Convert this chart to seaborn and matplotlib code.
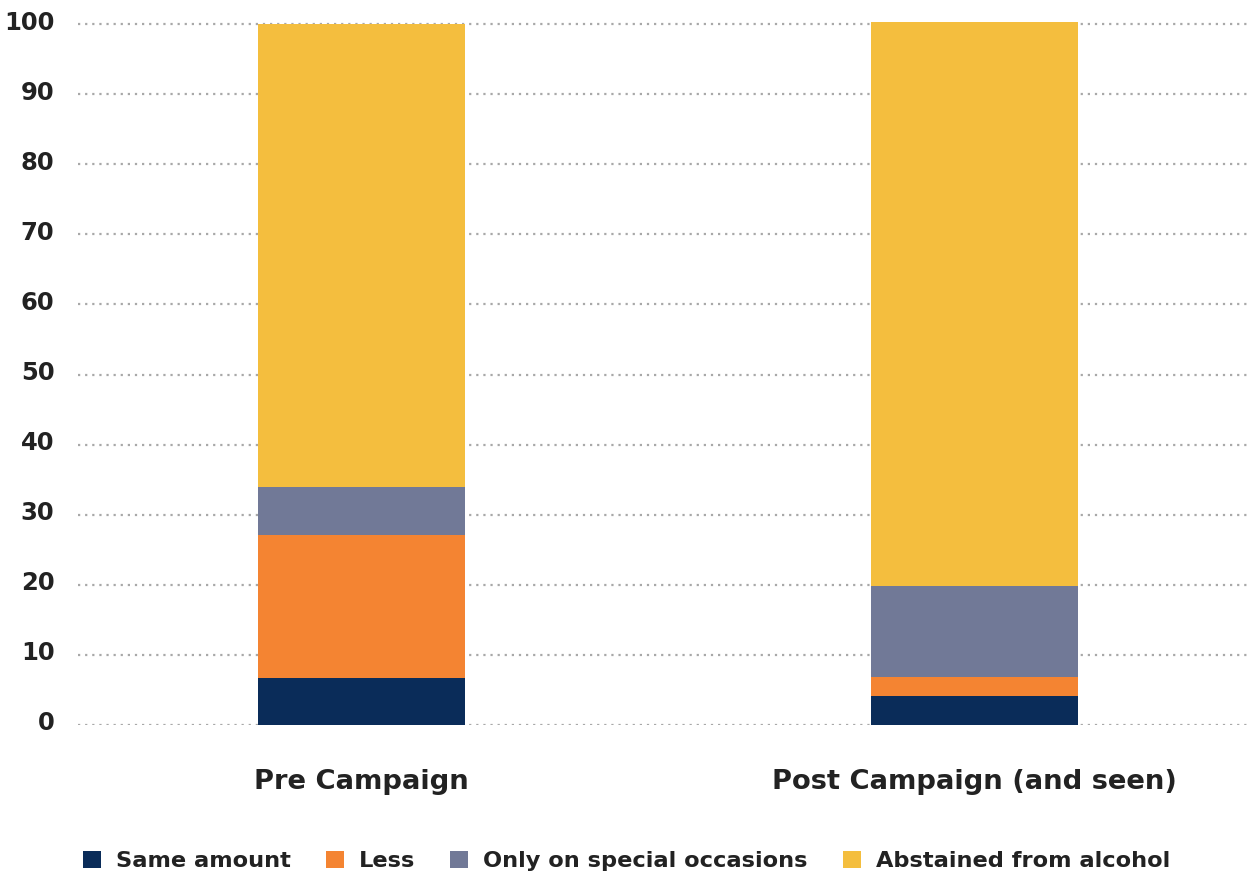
import matplotlib
matplotlib.use("Agg")
import matplotlib.pyplot as plt
import matplotlib.transforms as mtransforms
import seaborn as sns
import numpy as np
import pandas as pd
from matplotlib.patches import Patch

# Survey responses (% of respondents)
phases = ["Pre Campaign", "Post Campaign (and seen)"]
responses = ["Same amount", "Less", "Only on special occasions", "Abstained from alcohol"]
same_amount = [6.7, 4.1]
less = [20.4, 2.8]
special_occasions = [6.8, 13.0]
abstained = [66.1, 80.4]
colors = ["#0a2c59", "#f48432", "#717997", "#f4be3e"]
y_ticks = [0, 10, 20, 30, 40, 50, 60, 70, 80, 90, 100]

sns.set_theme(style="white")
plt.rcParams["font.family"] = ["DejaVu Sans"]
text_color = "#222222"

series = [same_amount, less, special_occasions, abstained]
cumulative = np.cumsum(np.array(series), axis=0)

y_top = 100.6
px_per_unit = 7.01
fig = plt.figure(figsize=(12.53, 8.77), dpi=100)
ax_h = y_top * px_per_unit
ax = fig.add_axes([78 / 1253, (877 - 725) / 877, (1250 - 78) / 1253, ax_h / 877])

# stacked bars: draw the running totals from the top layer down
for i in range(len(responses) - 1, -1, -1):
    df = pd.DataFrame({"phase": phases, "value": cumulative[i]})
    sns.barplot(data=df, x="phase", y="value", color=colors[i], width=0.338,
                saturation=1, ax=ax, zorder=3, linewidth=0)

ax.set_ylim(0, y_top)
ax.set_xlim(-0.4625, 1.449)
ax.set_yticks(y_ticks)
ax.yaxis.grid(True, linestyle=(0, (1, 2.2)), color="#a8a8a8", linewidth=1.6, zorder=0)
ax.xaxis.grid(False)
for s in ax.spines.values():
    s.set_visible(False)
ax.set_xlabel("")
ax.set_ylabel("")
ax.tick_params(axis="y", length=0, pad=17, labelsize=17.5, labelcolor=text_color)
ax.tick_params(axis="x", length=0, pad=32, labelsize=19.7, labelcolor=text_color)
for lbl in ax.get_yticklabels() + ax.get_xticklabels():
    lbl.set_fontweight("bold")
# lift the y labels a touch above their gridlines
lift = mtransforms.ScaledTranslation(0, 4 / 100, fig.dpi_scale_trans)
for lbl in ax.get_yticklabels():
    lbl.set_transform(lbl.get_transform() + lift)

handles = [Patch(facecolor=c, edgecolor="none", label=r) for c, r in zip(colors, responses)]
leg = fig.legend(handles=handles, loc="center", bbox_to_anchor=(0.5, 1 - 861 / 877),
                 ncol=4, frameon=False, handlelength=0.8, handleheight=0.8,
                 handletextpad=0.68, columnspacing=1.55,
                 prop={"weight": "bold", "size": 16.2})
for t in leg.get_texts():
    t.set_color(text_color)

fig.savefig("out.png", dpi=100)
